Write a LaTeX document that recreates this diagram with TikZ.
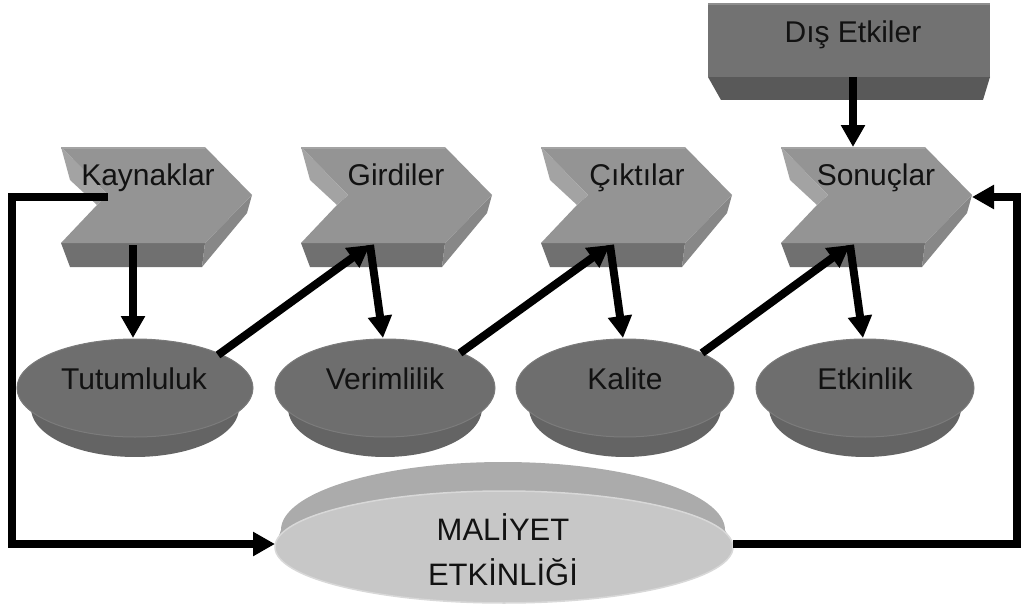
\documentclass[tikz,border=0pt]{standalone}
\usepackage{fontspec}
\setmainfont{Liberation Sans}
\usetikzlibrary{arrows.meta}

\definecolor{chevtop}{HTML}{949494}
\definecolor{chevlight}{HTML}{A3A3A3}
\definecolor{chevside}{HTML}{878787}
\definecolor{chevbot}{HTML}{707070}
\definecolor{disktop}{HTML}{6E6E6E}
\definecolor{diskrim}{HTML}{7B7B7B}
\definecolor{diskside}{HTML}{646464}
\definecolor{boxtop}{HTML}{727272}
\definecolor{boxbot}{HTML}{595959}
\definecolor{costface}{HTML}{C7C7C7}
\definecolor{costrim}{HTML}{ABABAB}
\definecolor{costedge}{HTML}{D8D8D8}

% extruded chevron, #1 = left x
\newcommand\chevronshape[1]{%
  \fill[chevbot] (#1,243) -- ({#1+144},243) -- ({#1+141},267) -- ({#1+9},267) -- cycle;
  \fill[chevside] ({#1+191},195) -- ({#1+186},213) -- ({#1+141},267) -- ({#1+144},243) -- cycle;
  \fill[chevtop] (#1,147) -- ({#1+144},147) -- ({#1+191},195) -- ({#1+144},243)
    -- (#1,243) -- ({#1+36},205) -- ({#1+47},195) -- cycle;
  \fill[chevlight] (#1,147) -- ({#1+9},180) -- ({#1+36},205) -- ({#1+47},195) -- cycle;
  \draw[chevlight,line width=1.5pt] (#1,148) -- ({#1+144},148);
}

% flat disk, #1 = centre x, #2 = top radius, #3 = bottom radius
\newcommand\diskshape[3]{%
  \fill[diskside] ({#1-#2},388) -- ({#1-#3},408)
    -- plot[smooth,samples=40,domain=180:0,variable=\t] ({#1+#3*cos(\t)},{408+49*sin(\t)})
    -- ({#1+#2},388)
    -- plot[smooth,samples=40,domain=0:180,variable=\t] ({#1+#2*cos(\t)},{388+49*sin(\t)})
    -- cycle;
  \filldraw[fill=disktop,draw=diskrim,line width=1pt] (#1,388) ellipse [x radius=#2pt, y radius=49pt];
}

\tikzset{
  lbl/.style={font=\fontsize{30}{36}\selectfont, inner sep=0pt, anchor=base, text=black!93},
  arr/.style={line width=8pt, line join=miter, -{Triangle[width=23pt,length=22pt]}},
}

\begin{document}
\begin{tikzpicture}[x=1pt,y=-1pt]
  \useasboundingbox (0,0) rectangle (1021,610);

  % external influences box
  \fill[boxbot] (708,77) -- (990,77) -- (983,100) -- (721,100) -- cycle;
  \fill[boxtop] (708,3) rectangle (990,77);
  \draw[boxtop!80!white,line width=1.5pt] (708,4) -- (990,4);
  \node[lbl] (dis) at (853,43) {Dış Etkiler};

  % process chevrons
  \chevronshape{61}
  \chevronshape{301}
  \chevronshape{541}
  \chevronshape{781}
  \node[lbl] (kay) at (148,185) {Kaynaklar};
  \node[lbl] (gir) at (396,185) {Girdiler};
  \node[lbl] (cik) at (637,185) {Çıktılar};
  \node[lbl] (son) at (876,185) {Sonuçlar};

  % measure disks
  \diskshape{135}{118}{104}
  \diskshape{385}{110}{97}
  \diskshape{625}{109}{96}
  \diskshape{865}{109}{96}
  \node[lbl] (tut) at (134,389) {Tutumluluk};
  \node[lbl] (ver) at (385,389) {Verimlilik};
  \node[lbl] (kal) at (625,389) {Kalite};
  \node[lbl] (etk) at (865,389) {Etkinlik};

  % cost effectiveness disk
  \fill[costrim] (275,547) -- (281,530)
    -- plot[smooth,samples=80,domain=180:360,variable=\t] ({503+222*cos(\t)},{530+68*sin(\t)})
    -- (733,547) -- cycle;
  \filldraw[fill=costface,draw=costedge,line width=1.5pt] (504,547) ellipse [x radius=229pt, y radius=56pt];
  \node[font=\fontsize{31}{45}\selectfont, align=center, inner sep=0pt, text=black!93]
    (mal) at (503,550) {MALİYET\\ETKİNLİĞİ};

  % connector end points
  \coordinate (dis-s) at (853,77);
  \coordinate (son-n) at (853,147);
  \coordinate (kay-s) at (133,245);
  \coordinate (gir-s) at (370,245);
  \coordinate (cik-s) at (610,245);
  \coordinate (son-s) at (850,245);
  \coordinate (tut-n) at (133,338);
  \coordinate (ver-n) at (383,338);
  \coordinate (kal-n) at (623,338);
  \coordinate (etk-n) at (863,338);
  \coordinate (tut-ne) at (218,355);
  \coordinate (ver-ne) at (460,353);
  \coordinate (kal-ne) at (702,353);
  \coordinate (kay-w) at (108,197);
  \coordinate (son-e) at (972,197);
  \coordinate (mal-w) at (275,544);
  \coordinate (mal-e) at (733,544);
  \coordinate (lcorner) at (12,544);
  \coordinate (rcorner) at (1017,197);

  % connectors
  \draw[arr] (dis-s) -- (son-n);
  \draw[arr] (kay-s) -- (tut-n);
  \draw[arr] (tut-ne) -- (gir-s);
  \draw[arr] (gir-s) -- (ver-n);
  \draw[arr] (ver-ne) -- (cik-s);
  \draw[arr] (cik-s) -- (kal-n);
  \draw[arr] (kal-ne) -- (son-s);
  \draw[arr] (son-s) -- (etk-n);
  \draw[arr] (kay-w) -| (lcorner) -- (mal-w);
  \draw[arr] (mal-e) -| (rcorner) -- (son-e);
\end{tikzpicture}
\end{document}
